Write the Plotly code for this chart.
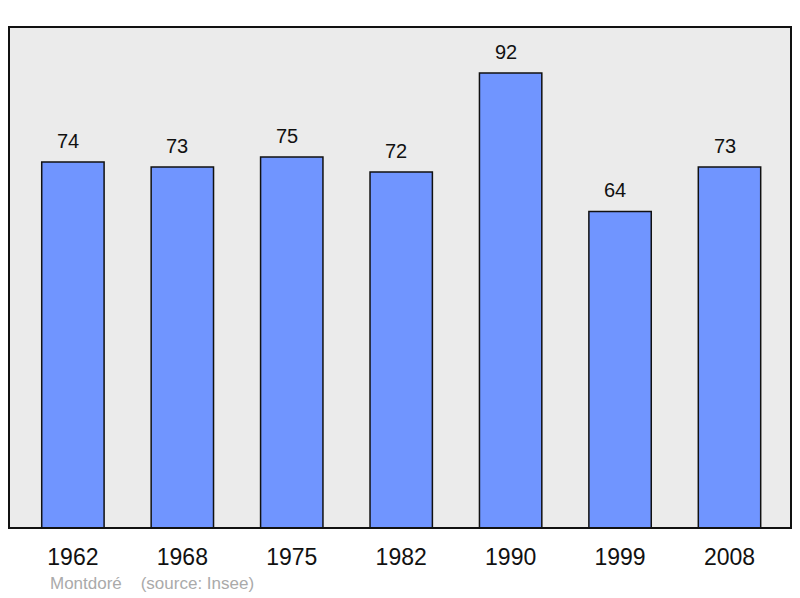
import plotly.graph_objects as go

years = ["1962", "1968", "1975", "1982", "1990", "1999", "2008"]
population = [74, 73, 75, 72, 92, 64, 73]
footer_text = "Montdoré    (source: Insee)"

fig = go.Figure()
fig.add_trace(go.Bar(
    x=list(range(len(years))),
    y=population,
    width=0.57,
    marker=dict(color="#7095FF", line=dict(color="#111111", width=1.5)),
    hoverinfo="skip",
))

for i, v in enumerate(population):
    fig.add_annotation(x=i, y=v, text=str(v), showarrow=False, yanchor="bottom",
                       yshift=8, xshift=-5,
                       font=dict(family="Liberation Sans, Arial", size=20, color="#111111"))

fig.add_annotation(xref="paper", yref="paper", x=0.05, y=-0.11, xanchor="left", yanchor="middle",
                   text=footer_text.replace("    ", "&nbsp;&nbsp;&nbsp;&nbsp;"), showarrow=False,
                   font=dict(family="Liberation Sans, Arial", size=17, color="#AAAAAA"))

fig.add_shape(type="rect", xref="paper", yref="paper", x0=0, y0=0, x1=1, y1=1,
              line=dict(color="#111111", width=2), layer="above")

fig.update_layout(
    width=800, height=598,
    margin=dict(l=9, r=9, t=27, b=70),
    paper_bgcolor="white",
    plot_bgcolor="#EBEBEB",
    showlegend=False,
    xaxis=dict(tickmode="array", tickvals=list(range(len(years))), ticktext=years,
               range=[-0.584, 6.562], showgrid=False, zeroline=False,
               ticks="outside", ticklen=8, tickcolor="rgba(0,0,0,0)",
               tickfont=dict(family="Liberation Sans, Arial", size=23, color="#111111")),
    yaxis=dict(range=[0, 101.3], showgrid=False, zeroline=False, showticklabels=False, ticks=""),
)

fig.write_html("out.html", config={"displayModeBar": False},
               post_script="document.body.style.margin='0';document.body.style.overflow='hidden';")
